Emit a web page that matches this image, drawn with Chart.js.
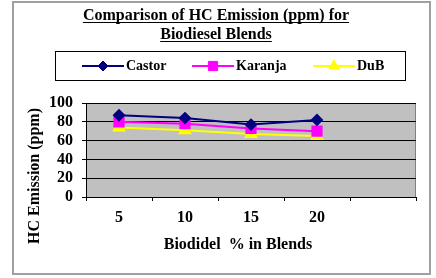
<!DOCTYPE html>
<html lang="en">
<head>
    <meta charset="UTF-8">
    <title>HC Emission</title>
    <script src="https://cdn.jsdelivr.net/npm/chart.js"></script>
    <style>
        body { margin: 0; background: #fff; }
        #wrap { width: 436px; height: 278px; }
    </style>
</head>
<body>
    <div id="wrap"><canvas id="hcChart"></canvas></div>

    <script>
        // values
        const blends = ['5', '10', '15', '20', ''];
        const castor = [87, 84, 77, 82];
        const karanja = [80, 78, 73, 70];
        const dub = [74, 71, 67, 65];
        const yTicks = [0, 20, 40, 60, 80, 100];

        const serif = '"Liberation Serif", "Times New Roman", serif';

        // plot background, frame, titles and boxed legend
        const decor = {
            id: 'decor',
            beforeDraw(chart) {
                const ctx = chart.ctx;
                const a = chart.chartArea;
                ctx.save();
                ctx.fillStyle = '#c0c0c0';
                ctx.fillRect(a.left, a.top, a.right - a.left, a.bottom - a.top);
                ctx.strokeStyle = '#808080';
                ctx.lineWidth = 1;
                ctx.strokeRect(a.left + 0.5, a.top + 0.5, a.right - a.left - 1, a.bottom - a.top);
                ctx.restore();
            },
            afterDraw(chart) {
                const ctx = chart.ctx;
                ctx.save();
                // outer frame
                ctx.strokeStyle = '#a0a0a0';
                ctx.lineWidth = 2;
                ctx.strokeRect(13, 2, 417, 272);

                // title, underlined
                ctx.fillStyle = '#000';
                ctx.strokeStyle = '#000';
                ctx.lineWidth = 1;
                ctx.font = 'bold 16px ' + serif;
                ctx.textAlign = 'center';
                ctx.textBaseline = 'alphabetic';
                const lines = ['Comparison of HC Emission (ppm) for', 'Biodiesel Blends'];
                lines.forEach((t, i) => {
                    const y = 20 + i * 19;
                    ctx.fillText(t, 216, y);
                    const w = ctx.measureText(t).width;
                    ctx.beginPath();
                    ctx.moveTo(216 - w / 2, y + 2.5);
                    ctx.lineTo(216 + w / 2, y + 2.5);
                    ctx.stroke();
                });

                // legend box
                ctx.strokeRect(55.5, 51.5, 350, 29);
                const starts = [82, 192, 313];
                ctx.font = 'bold 14px ' + serif;
                ctx.textAlign = 'left';
                ctx.textBaseline = 'middle';
                chart.data.datasets.forEach((ds, i) => {
                    const x0 = starts[i];
                    ctx.strokeStyle = ds.borderColor;
                    ctx.lineWidth = 2;
                    ctx.beginPath();
                    ctx.moveTo(x0, 66);
                    ctx.lineTo(x0 + 42, 66);
                    ctx.stroke();
                    ctx.fillStyle = ds.pointBackgroundColor;
                    ctx.lineWidth = 1;
                    Chart.helpers.drawPoint(ctx, {
                        pointStyle: ds.pointStyle,
                        radius: ds.pointRadius,
                        rotation: 0,
                        borderWidth: 1
                    }, x0 + 21, 66);
                    ctx.fillStyle = '#000';
                    ctx.fillText(ds.label, x0 + 44, 66);
                });

                // axis titles
                ctx.font = 'bold 16px ' + serif;
                ctx.textAlign = 'center';
                ctx.fillText('Biodidel  % in Blends', 238, 245);
                ctx.translate(35, 176);
                ctx.rotate(-Math.PI / 2);
                ctx.fillText('HC Emission (ppm)', 0, 0);
                ctx.restore();
            }
        };

        const series = [
            { label: 'Castor', data: castor, color: '#000080', style: 'rectRot', r: 5 },
            { label: 'Karanja', data: karanja, color: '#ff00ff', style: 'rect', r: 6.5 },
            { label: 'DuB', data: dub, color: '#ffff00', style: 'triangle', r: 6 }
        ];

        new Chart(document.getElementById('hcChart'), {
            type: 'line',
            data: {
                labels: blends,
                datasets: series.map(s => ({
                    label: s.label,
                    data: s.data,
                    borderColor: s.color,
                    backgroundColor: s.color,
                    pointBackgroundColor: s.color,
                    pointBorderColor: s.color,
                    pointStyle: s.style,
                    pointRadius: s.r,
                    borderWidth: 2,
                    tension: 0,
                    fill: false
                }))
            },
            options: {
                responsive: true,
                maintainAspectRatio: false,
                animation: false,
                layout: { padding: { left: 13, right: 20, top: 103, bottom: 41 } },
                plugins: {
                    legend: { display: false },
                    title: { display: false },
                    tooltip: { enabled: false }
                },
                scales: {
                    x: {
                        offset: true,
                        afterFit: s => { s.height = 40; },
                        grid: { offset: true, drawOnChartArea: false, color: '#000', tickLength: 4 },
                        border: { color: '#000' },
                        ticks: { color: '#000', padding: 7, font: { family: serif, size: 16, weight: 'bold' } }
                    },
                    y: {
                        min: 0,
                        max: 100,
                        afterFit: s => { s.width = 73; },
                        afterBuildTicks: s => { s.ticks = yTicks.map(v => ({ value: v })); },
                        grid: { color: '#000', tickLength: 4 },
                        border: { color: '#000' },
                        ticks: { color: '#000', padding: 9, autoSkip: false, font: { family: serif, size: 16, weight: 'bold' } }
                    }
                }
            },
            plugins: [decor]
        });
    </script>
</body>
</html>
